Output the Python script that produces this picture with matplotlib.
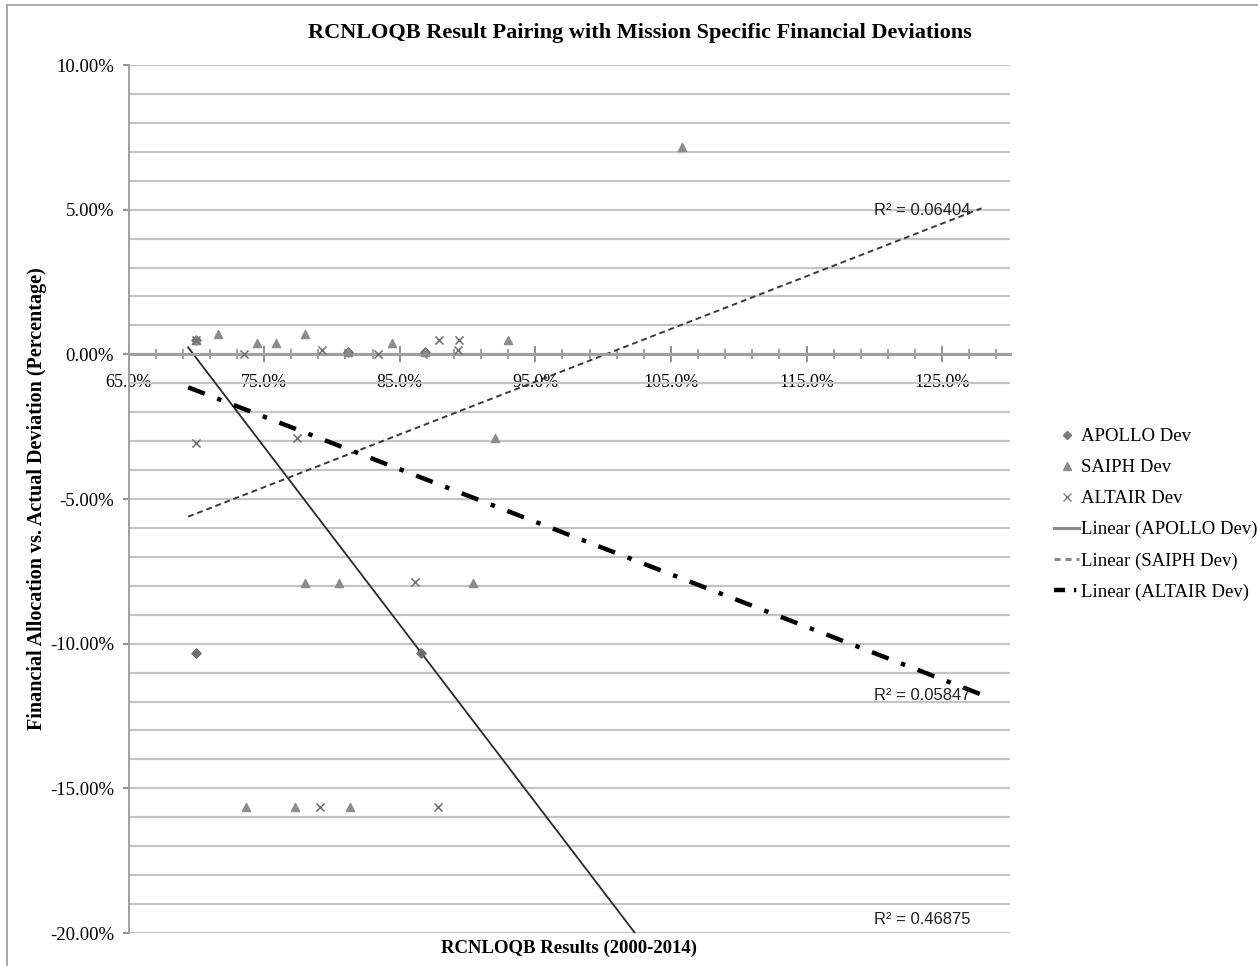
import numpy as np
import matplotlib

matplotlib.use("Agg")
import matplotlib.pyplot as plt
from matplotlib.lines import Line2D
from matplotlib.patches import Rectangle
from matplotlib.ticker import FuncFormatter, MultipleLocator

plt.rcParams["font.family"] = ["Liberation Serif", "DejaVu Serif"]

# scatter points (x = RCNLOQB result %, y = deviation %)
apollo_x = [70.0, 70.0, 86.6, 81.2, 86.9]
apollo_y = [0.48, -10.32, -10.32, 0.08, 0.08]

saiph_x = [70.0, 71.6, 74.5, 75.9, 78.0, 81.2, 84.4, 86.9, 93.0, 105.8,
           92.0, 78.0, 80.5, 90.4, 73.7, 77.3, 81.3]
saiph_y = [0.48, 0.72, 0.39, 0.39, 0.72, 0.08, 0.39, 0.08, 0.50, 7.16,
           -2.88, -7.91, -7.91, -7.91, -15.66, -15.66, -15.66]

altair_x = [70.0, 73.5, 79.3, 83.4, 87.9, 89.4, 89.3, 70.0, 77.4, 86.1, 79.1, 87.8]
altair_y = [0.48, 0.0, 0.14, 0.0, 0.50, 0.50, 0.14, -3.07, -2.88, -7.88, -15.66, -15.66]

# linear trendlines (start/end)
trend_x = [69.4, 127.9]
apollo_trend = [0.24, -35.7]
saiph_trend = [-5.61, 5.05]
altair_trend = [-1.14, -11.76]

r2_labels = ["R\u00b2 = 0.06404", "R\u00b2 = 0.05847", "R\u00b2 = 0.46875"]

W, H = 1258, 966
fig = plt.figure(figsize=(W / 100, H / 100), dpi=100)
ax = fig.add_axes([128.5 / W, 1 - 933 / H, (1010 - 128.5) / W, (933 - 65) / H])

# outer chart frame
fig.patches.append(Rectangle((7 / W, -0.01), 1.0, 1 - 5 / H + 0.01,
                             transform=fig.transFigure, fill=False,
                             ec="#9a9a9a", lw=1.2))

ax.set_xlim(65, 130)
ax.set_ylim(-20, 10)

# gridlines every 1%
ax.yaxis.set_major_locator(MultipleLocator(5))
ax.yaxis.set_minor_locator(MultipleLocator(1))
ax.grid(True, axis="y", which="both", color="#c4c4c4", lw=1.6, zorder=0)
ax.set_axisbelow(True)

ax.set_xticks(np.arange(65, 131, 10))
ax.set_xticks(np.arange(65, 131, 2), minor=True)
ax.xaxis.set_major_formatter(FuncFormatter(lambda v, p: f"{v:.1f}%"))
ax.yaxis.set_major_formatter(FuncFormatter(lambda v, p: f"{v:.2f}%"))

for s in ("top", "right"):
    ax.spines[s].set_visible(False)
ax.spines["bottom"].set_position(("data", 0))
ax.spines["bottom"].set_color("#a0a0a0")
ax.spines["bottom"].set_linewidth(2.2)
ax.spines["left"].set_color("#a0a0a0")
ax.spines["left"].set_linewidth(1.4)

ax.tick_params(axis="x", which="major", direction="inout", length=12, width=1.4,
               color="#909090", labelsize=13, pad=8)
ax.tick_params(axis="x", which="minor", direction="inout", length=7, width=1.2,
               color="#909090")
ax.tick_params(axis="y", which="major", direction="out", length=4.5, width=1.4,
               color="#909090", labelsize=13.5, pad=6)
ax.tick_params(axis="y", which="minor", length=0)

# trendlines
ax.plot(trend_x, apollo_trend, color="#2a2a2a", lw=1.3, zorder=2)
ax.plot(trend_x, saiph_trend, color="#3a3a3a", lw=1.4, dashes=(3, 2), zorder=2)
ax.plot(trend_x, altair_trend, color="black", lw=3.2, dashes=(4, 3, 1, 3), zorder=2)

# scatter series
ax.scatter(apollo_x, apollo_y, marker="D", s=22, color="#6e6e6e", zorder=3)
ax.scatter(saiph_x, saiph_y, marker="^", s=34, color="#8c8c8c", zorder=3)
ax.scatter(altair_x, altair_y, marker="x", s=34, color="#707070", lw=1.1, zorder=3)

# R^2 labels
for txt, yv in zip(r2_labels, [4.98, -11.8, -19.55]):
    ax.text(120.0, yv, txt, fontsize=12, family=["Liberation Sans", "DejaVu Sans"],
            color="#222222", ha="left", va="center", zorder=4)

fig.text(640 / W, 1 - 33 / H,
         "RCNLOQB Result Pairing with Mission Specific Financial Deviations",
         ha="center", va="center", fontsize=16, fontweight="bold")
fig.text(569 / W, 1 - 948 / H, "RCNLOQB Results (2000-2014)",
         ha="center", va="center", fontsize=13.5, fontweight="bold")
fig.text(37 / W, 1 - 499 / H,
         "Financial Allocation vs. Actual Deviation (Percentage)",
         ha="center", va="center", rotation=90, fontsize=14.5, fontweight="bold")

handles = [
    Line2D([], [], ls="none", marker="D", ms=4, color="#7a7a7a"),
    Line2D([], [], ls="none", marker="^", ms=6, color="#8c8c8c"),
    Line2D([], [], ls="none", marker="x", ms=6, color="#808080"),
    Line2D([], [], color="#8a8a8a", lw=2.2),
    Line2D([], [], color="#8a8a8a", lw=2.2, dashes=(2, 1.6)),
    Line2D([], [], color="black", lw=3.2, dashes=(2.5, 2, 0.5, 2)),
]
labels = ["APOLLO Dev", "SAIPH Dev", "ALTAIR Dev",
          "Linear (APOLLO Dev)", "Linear (SAIPH Dev)", "Linear (ALTAIR Dev)"]
fig.legend(handles, labels, loc="upper left",
           bbox_to_anchor=(1054 / W, 1 - 428 / H), frameon=False,
           fontsize=13.5, handlelength=1.35, handletextpad=0.1,
           labelspacing=0.74, borderpad=0, borderaxespad=0)

fig.savefig("out.png", dpi=100)
